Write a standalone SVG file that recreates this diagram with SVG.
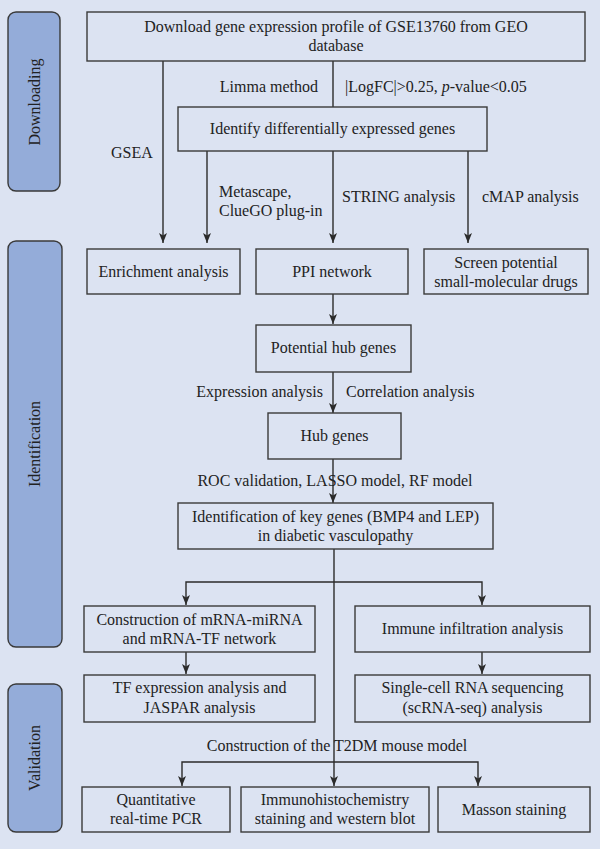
<svg xmlns="http://www.w3.org/2000/svg" width="600" height="849" viewBox="0 0 600 849">
<defs>
<marker id="ah" viewBox="0 0 10 8" refX="10" refY="4" markerWidth="10" markerHeight="8" markerUnits="userSpaceOnUse" orient="auto">
<path d="M0,0 L10,4 L0,8 L2.5,4 z" fill="#2b2b2b"/>
</marker>
<style>
text{font-family:"Liberation Serif","Times New Roman",serif;font-size:16px;fill:#222}
.c{text-anchor:middle}
.e{text-anchor:end}
.box{fill:none;stroke:#3a3a3a;stroke-width:1.4}
.side{fill:#94acd9;stroke:#3a3a3a;stroke-width:1.4}
.ln{fill:none;stroke:#2b2b2b;stroke-width:1.4}
.ar{fill:none;stroke:#2b2b2b;stroke-width:1.4;marker-end:url(#ah)}
</style>
</defs>
<rect x="0" y="0" width="600" height="849" fill="#dce3f2"/>

<g id="side-downloading"><rect class="side" x="8" y="12" width="52" height="179" rx="8"/><text class="c" transform="translate(40,102) rotate(-90)">Downloading</text></g>
<g id="side-identification"><rect class="side" x="8" y="241" width="54" height="406" rx="8"/><text class="c" transform="translate(40,444) rotate(-90)">Identification</text></g>
<g id="side-validation"><rect class="side" x="8" y="684" width="54" height="148" rx="8"/><text class="c" transform="translate(40,758) rotate(-90)">Validation</text></g>

<g id="connectors">
<path class="ar" d="M163,61 V243"/>
<path class="ln" d="M333,61 V107"/>
<path class="ar" d="M207,151 V243"/>
<path class="ar" d="M333,151 V243"/>
<path class="ar" d="M468,151 V243"/>
<path class="ar" d="M333,294 V324"/>
<path class="ar" d="M333,372 V413"/>
<path class="ar" d="M333,459 V503"/>
<path class="ar" d="M334,549 V786"/>
<path class="ar" d="M334,582 H186 V605"/>
<path class="ar" d="M334,582 H482 V605"/>
<path class="ar" d="M186,652 V674"/>
<path class="ar" d="M482,652 V674"/>
<path class="ar" d="M334,762 H182 V786"/>
<path class="ar" d="M334,762 H478 V786"/>
</g>

<g id="labels">
<text class="e" x="318" y="92">Limma method</text>
<text x="345" y="92">|LogFC|&gt;0.25, <tspan font-style="italic">p</tspan>-value&lt;0.05</text>
<text x="111" y="158">GSEA</text>
<text x="219" y="197">Metascape,</text>
<text x="219" y="216">ClueGO plug-in</text>
<text x="342" y="202">STRING analysis</text>
<text x="482" y="202">cMAP analysis</text>
<text class="e" x="323" y="397">Expression analysis</text>
<text x="346" y="397">Correlation analysis</text>
<text class="c" x="335" y="486">ROC validation, LASSO model, RF model</text>
<text class="c" x="337" y="751">Construction of the T2DM mouse model</text>
</g>

<g id="n-download"><rect class="box" x="87" y="12" width="498" height="49"/><text class="c" x="336" y="32">Download gene expression profile of GSE13760 from GEO</text><text class="c" x="336" y="51">database</text></g>
<g id="n-deg"><rect class="box" x="178" y="107" width="309" height="44"/><text class="c" x="332.5" y="134">Identify differentially expressed genes</text></g>
<g id="n-enrich"><rect class="box" x="87" y="249" width="153" height="45"/><text class="c" x="163.5" y="277">Enrichment analysis</text></g>
<g id="n-ppi"><rect class="box" x="256" y="249" width="152" height="45"/><text class="c" x="332" y="277">PPI network</text></g>
<g id="n-drugs"><rect class="box" x="424" y="249" width="164" height="45"/><text class="c" x="506" y="268">Screen potential</text><text class="c" x="506" y="287">small-molecular drugs</text></g>
<g id="n-potential"><rect class="box" x="256" y="325" width="155" height="47"/><text class="c" x="333.5" y="353">Potential hub genes</text></g>
<g id="n-hub"><rect class="box" x="268" y="413" width="133" height="46"/><text class="c" x="334.5" y="441">Hub genes</text></g>
<g id="n-key"><rect class="box" x="178" y="503" width="315" height="46"/><text class="c" x="335.5" y="522">Identification of key genes (BMP4 and LEP)</text><text class="c" x="335.5" y="541">in diabetic vasculopathy</text></g>
<g id="n-mrna"><rect class="box" x="84" y="606" width="231" height="46"/><text class="c" x="199.5" y="625">Construction of mRNA-miRNA</text><text class="c" x="199.5" y="644">and mRNA-TF network</text></g>
<g id="n-immune"><rect class="box" x="355" y="606" width="235" height="46"/><text class="c" x="472.5" y="634">Immune infiltration analysis</text></g>
<g id="n-tf"><rect class="box" x="84" y="675" width="231" height="47"/><text class="c" x="199.5" y="693">TF expression analysis and</text><text class="c" x="199.5" y="713">JASPAR analysis</text></g>
<g id="n-sc"><rect class="box" x="355" y="675" width="235" height="47"/><text class="c" x="472.5" y="693">Single-cell RNA sequencing</text><text class="c" x="472.5" y="713">(scRNA-seq) analysis</text></g>
<g id="n-pcr"><rect class="box" x="82" y="787" width="148" height="45"/><text class="c" x="156" y="805">Quantitative</text><text class="c" x="156" y="824">real-time PCR</text></g>
<g id="n-ihc"><rect class="box" x="241" y="787" width="188" height="45"/><text class="c" x="335" y="805">Immunohistochemistry</text><text class="c" x="335" y="824">staining and western blot</text></g>
<g id="n-masson"><rect class="box" x="438" y="787" width="152" height="45"/><text class="c" x="514" y="815">Masson staining</text></g>
</svg>
